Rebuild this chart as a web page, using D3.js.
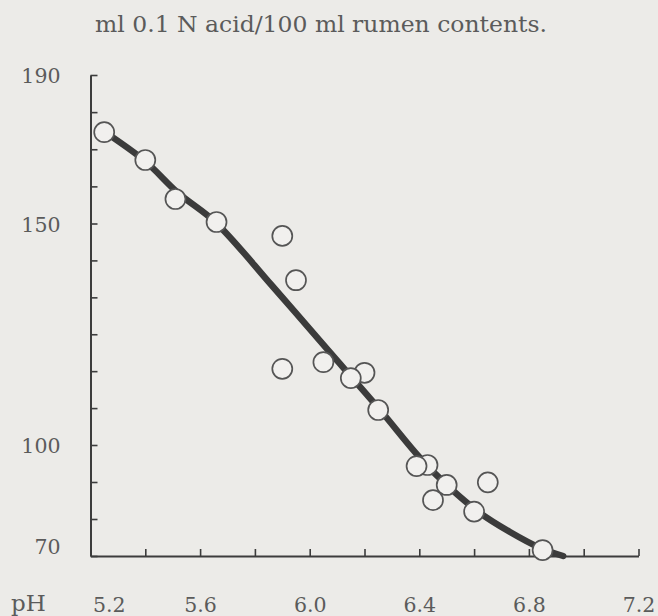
<!DOCTYPE html>
<html>
<head>
<meta charset="utf-8">
<script src="https://cdn.jsdelivr.net/npm/d3@7"></script>
<style>
  html, body { margin: 0; padding: 0; background: #ecebe8; }
  svg { display: block; }
  text { font-family: "DejaVu Serif", "Liberation Serif", serif; fill: #5b5b5b; }
</style>
</head>
<body>
<script>
// ---- data ----
const titleText = "ml 0.1 N acid/100 ml rumen contents.";
const xAxisLabel = "pH";

// observed points (pH, ml 0.1 N acid / 100 ml)
const pointPH  = [5.25, 5.40, 5.51, 5.66, 5.90, 5.95, 5.90, 6.05, 6.20, 6.15, 6.25, 6.43, 6.39, 6.50, 6.45, 6.65, 6.60, 6.85];
const pointVal = [174.6, 167.1, 156.6, 150.4, 147.2, 137.2, 117.2, 118.7, 116.3, 115.1, 107.9, 94.6, 94.3, 89.2, 85.1, 89.9, 82.0, 71.6];

// fitted curve (hand-drawn in original)
const curvePH  = [5.253, 5.399, 5.520, 5.658, 5.862, 6.067, 6.257, 6.403, 6.512, 6.622, 6.731, 6.841, 6.925];
const curveVal = [174.6, 166.8, 158.2, 150.2, 136.0, 121.4, 107.9, 96.5, 88.4, 81.6, 76.5, 72.2, 70.0];

// axis ticks
const xTicks = [5.2, 5.4, 5.6, 5.8, 6.0, 6.2, 6.4, 6.6, 6.8, 7.0, 7.2];
const xTickLabels = [5.2, 5.6, 6.0, 6.4, 6.8, 7.2];
const yTicks = [70, 80, 90, 100, 108.33, 116.67, 125, 133.33, 141.67, 150, 160, 170, 180, 190];
const yTickLabels = [70, 100, 150, 190];

// ---- drawing ----
const W = 658, H = 616;
const svg = d3.select("body").append("svg").attr("width", W).attr("height", H);

svg.append("rect").attr("width", W).attr("height", H).attr("fill", "#ecebe8");

// The printed y axis is not uniform between its labels: piecewise-linear scale
const x = d3.scaleLinear().domain([5.2, 7.2]).range([90.5, 638.5]);
const y = d3.scaleLinear().domain([70, 100, 150, 190]).range([556, 445, 223.5, 75]);

// title
svg.append("text")
  .attr("x", 321).attr("y", 32)
  .attr("text-anchor", "middle")
  .attr("font-size", 23)
  .attr("textLength", 452)
  .attr("lengthAdjust", "spacingAndGlyphs")
  .text(titleText);

const axisColor = "#3c3c3c";

// y axis
const yAxis = d3.axisLeft(y)
  .tickValues(yTicks)
  .tickSizeInner(-7).tickSizeOuter(0)
  .tickPadding(30)
  .tickFormat(d => yTickLabels.includes(d) ? d3.format("d")(d) : "");
const gy = svg.append("g").attr("transform", `translate(${x(5.2)},0)`).call(yAxis);
gy.select(".domain").attr("stroke", axisColor).attr("stroke-width", 2);
gy.selectAll(".tick line").attr("stroke", axisColor).attr("stroke-width", 1.6);
gy.selectAll(".tick text")
  .attr("font-size", 20.5).attr("fill", "#5b5b5b")
  .style("font-family", '"DejaVu Serif", serif')
  .attr("dy", d => d === 70 ? "-0.1em" : "0.38em");

// x axis
const xAxis = d3.axisBottom(x)
  .tickValues(xTicks)
  .tickSizeInner(-7).tickSizeOuter(0)
  .tickPadding(41)
  .tickFormat(d => xTickLabels.some(v => Math.abs(v - d) < 1e-9) ? d3.format(".1f")(d) : "");
const gx = svg.append("g").attr("transform", `translate(0,${y(70)})`).call(xAxis);
gx.select(".domain").attr("stroke", axisColor).attr("stroke-width", 2);
gx.selectAll(".tick line").attr("stroke", axisColor).attr("stroke-width", 1.6);
gx.selectAll(".tick text")
  .attr("font-size", 20.5).attr("fill", "#5b5b5b")
  .style("font-family", '"DejaVu Serif", serif')
  .attr("text-anchor", d => Math.abs(d - 5.2) < 1e-9 ? "start" : "middle")
  .attr("dx", d => Math.abs(d - 5.2) < 1e-9 ? 2 : 0);
svg.selectAll(".domain").attr("fill", "none");

// pH label
svg.append("text")
  .attr("x", 11).attr("y", 611)
  .attr("font-size", 23)
  .text(xAxisLabel);

// curve
const curveData = curvePH.map((p, i) => [p, curveVal[i]]);
svg.append("path")
  .datum(curveData)
  .attr("fill", "none")
  .attr("stroke", "#3b3b3b")
  .attr("stroke-width", 6.5)
  .attr("stroke-linecap", "round")
  .attr("stroke-linejoin", "round")
  .attr("d", d3.line().x(d => x(d[0])).y(d => y(d[1])).curve(d3.curveCatmullRom.alpha(0.5)));

// points
const pts = pointPH.map((p, i) => ({ ph: p, v: pointVal[i] }));
svg.append("g").selectAll("circle")
  .data(pts).join("circle")
  .attr("cx", d => x(d.ph))
  .attr("cy", d => y(d.v))
  .attr("r", 10)
  .attr("fill", "#f1f0ee")
  .attr("stroke", "#555")
  .attr("stroke-width", 1.7);
</script>
</body>
</html>
